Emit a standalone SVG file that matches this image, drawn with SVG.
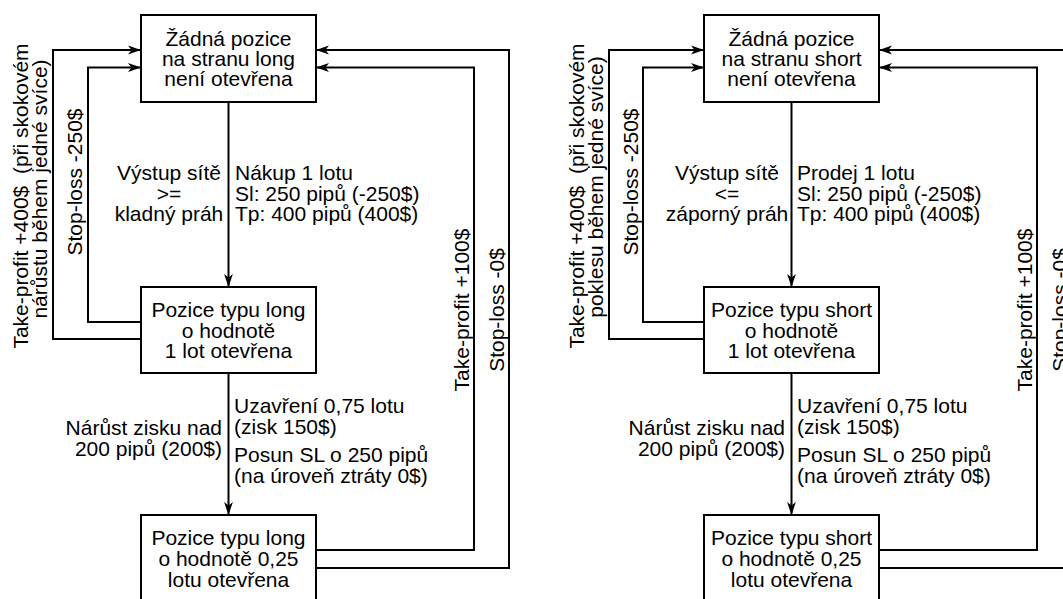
<svg xmlns="http://www.w3.org/2000/svg" width="1063" height="599" viewBox="0 0 1063 599">
<style>
text{font-family:"Liberation Sans",Arial,sans-serif;font-size:21px;fill:#000}
.c{text-anchor:middle}
.e{text-anchor:end}
.box{fill:#fff;stroke:#000;stroke-width:2}
.ln{fill:none;stroke:#000;stroke-width:2}
</style>
<defs>
<marker id="ah" markerUnits="userSpaceOnUse" markerWidth="14" markerHeight="10" refX="13" refY="5" orient="auto" overflow="visible">
<path d="M0,0.6 L13,5 L0,9.4 L3.5,5 Z" fill="#000"/>
</marker>
</defs>
<g id="connectors">
<path class="ln" d="M228.5,102 V287" marker-end="url(#ah)"/>
<path class="ln" d="M228.5,373 V515" marker-end="url(#ah)"/>
<path class="ln" d="M141,322 H88 V67.5 H141" marker-end="url(#ah)"/>
<path class="ln" d="M141,339 H53 V50 H141" marker-end="url(#ah)"/>
<path class="ln" d="M316,550 H474 V67.5 H316" marker-end="url(#ah)"/>
<path class="ln" d="M316,568 H509 V50 H316" marker-end="url(#ah)"/>
<path class="ln" d="M791.5,102 V287" marker-end="url(#ah)"/>
<path class="ln" d="M791.5,373 V515" marker-end="url(#ah)"/>
<path class="ln" d="M704,322 H643 V67.5 H704" marker-end="url(#ah)"/>
<path class="ln" d="M704,339 H609 V50 H704" marker-end="url(#ah)"/>
<path class="ln" d="M879,550 H1037 V67.5 H879" marker-end="url(#ah)"/>
<path class="ln" d="M879,568 H1072 V50 H879" marker-end="url(#ah)"/>
</g>
<g id="labels">
<text class="c" x="169" y="180">Výstup sítě</text>
<text class="c" x="169" y="200.5">&gt;=</text>
<text class="c" x="169" y="221">kladný práh</text>
<text x="235" y="180">Nákup 1 lotu</text>
<text x="235" y="200.5">Sl: 250 pipů (-250$)</text>
<text x="235" y="221">Tp: 400 pipů (400$)</text>
<text class="e" x="222" y="435">Nárůst zisku nad</text>
<text class="e" x="222" y="456">200 pipů (200$)</text>
<text x="234" y="413">Uzavření 0,75 lotu</text>
<text x="234" y="433.5">(zisk 150$)</text>
<text x="234" y="462">Posun SL o 250 pipů</text>
<text x="234" y="482.5">(na úroveň ztráty 0$)</text>
<text class="c" transform="translate(28,196) rotate(-90)" xml:space="preserve">Take-profit +400$  (při skokovém</text>
<text class="c" transform="translate(47,189) rotate(-90)">nárůstu během jedné svíce)</text>
<text class="c" transform="translate(82,182) rotate(-90)">Stop-loss -250$</text>
<text class="c" transform="translate(469,310) rotate(-90)">Take-profit +100$</text>
<text class="c" transform="translate(504,310) rotate(-90)">Stop-loss -0$</text>

<text class="c" x="727" y="180">Výstup sítě</text>
<text class="c" x="727" y="200.5">&lt;=</text>
<text class="c" x="727" y="221">záporný práh</text>
<text x="797" y="180">Prodej 1 lotu</text>
<text x="797" y="200.5">Sl: 250 pipů (-250$)</text>
<text x="797" y="221">Tp: 400 pipů (400$)</text>
<text class="e" x="785" y="435">Nárůst zisku nad</text>
<text class="e" x="785" y="456">200 pipů (200$)</text>
<text x="797" y="413">Uzavření 0,75 lotu</text>
<text x="797" y="433.5">(zisk 150$)</text>
<text x="797" y="462">Posun SL o 250 pipů</text>
<text x="797" y="482.5">(na úroveň ztráty 0$)</text>
<text class="c" transform="translate(584,196) rotate(-90)" xml:space="preserve">Take-profit +400$  (při skokovém</text>
<text class="c" transform="translate(603,187) rotate(-90)">poklesu během jedné svíce)</text>
<text class="c" transform="translate(638,182) rotate(-90)">Stop-loss -250$</text>
<text class="c" transform="translate(1032,310) rotate(-90)">Take-profit +100$</text>
<text class="c" transform="translate(1067,310) rotate(-90)">Stop-loss -0$</text>
</g>
<g id="long-none">
<rect class="box" x="141" y="15" width="175" height="87"/>
<text class="c" x="228.5" y="46">Žádná pozice</text>
<text class="c" x="228.5" y="66">na stranu long</text>
<text class="c" x="228.5" y="86">není otevřena</text>
</g>
<g id="long-1lot">
<rect class="box" x="141" y="287" width="175" height="86"/>
<text class="c" x="228.5" y="317">Pozice typu long</text>
<text class="c" x="228.5" y="338">o hodnotě</text>
<text class="c" x="228.5" y="358">1 lot otevřena</text>
</g>
<g id="long-025lot">
<rect class="box" x="141" y="515" width="175" height="86"/>
<text class="c" x="228.5" y="545">Pozice typu long</text>
<text class="c" x="228.5" y="566">o hodnotě 0,25</text>
<text class="c" x="228.5" y="587">lotu otevřena</text>
</g>
<g id="short-none">
<rect class="box" x="704" y="15" width="175" height="87"/>
<text class="c" x="791.5" y="46">Žádná pozice</text>
<text class="c" x="791.5" y="66">na stranu short</text>
<text class="c" x="791.5" y="86">není otevřena</text>
</g>
<g id="short-1lot">
<rect class="box" x="704" y="287" width="175" height="86"/>
<text class="c" x="791.5" y="317">Pozice typu short</text>
<text class="c" x="791.5" y="338">o hodnotě</text>
<text class="c" x="791.5" y="358">1 lot otevřena</text>
</g>
<g id="short-025lot">
<rect class="box" x="704" y="515" width="175" height="86"/>
<text class="c" x="791.5" y="545">Pozice typu short</text>
<text class="c" x="791.5" y="566">o hodnotě 0,25</text>
<text class="c" x="791.5" y="587">lotu otevřena</text>
</g>
</svg>
